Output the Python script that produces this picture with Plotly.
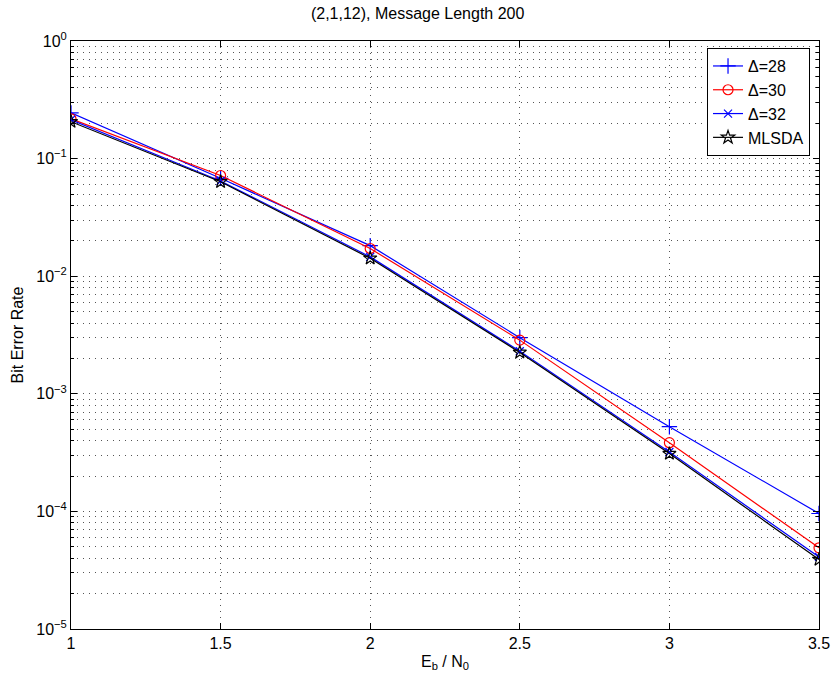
import plotly.graph_objects as go

ebn0 = [1.0, 1.5, 2.0, 2.5, 3.0, 3.5]
ber_d28 = [0.245, 0.068, 0.0182, 3.0e-3, 5.25e-4, 9.6e-5]
ber_d30 = [0.218, 0.0718, 0.0172, 2.86e-3, 3.84e-4, 4.9e-5]
ber_d32 = [0.214, 0.0645, 0.0146, 2.3e-3, 3.2e-4, 4.1e-5]
ber_mlsda = [0.206, 0.0635, 0.0142, 2.25e-3, 3.1e-4, 3.9e-5]

x_ticks = [1, 1.5, 2, 2.5, 3, 3.5]
x_ticktext = ["1", "1.5", "2", "2.5", "3", "3.5"]
y_major = [1e-5, 1e-4, 1e-3, 1e-2, 1e-1, 1e0]
y_major_text = ["10<sup>−5</sup>", "10<sup>−4</sup>", "10<sup>−3</sup>",
                "10<sup>−2</sup>", "10<sup>−1</sup>", "10<sup>0</sup>"]
y_minor = [m * d for d in [1e-5, 1e-4, 1e-3, 1e-2, 1e-1] for m in range(2, 10)]

font = "Liberation Sans, Arial, Helvetica, sans-serif"
fs = 16

fig = go.Figure()
series = [
    ("Δ=28", ber_d28, "#0000FF", "cross-thin-open", 11),
    ("Δ=30", ber_d30, "#FF0000", "circle-open", 10),
    ("Δ=32", ber_d32, "#0000FF", "x-thin-open", 8),
    ("MLSDA", ber_mlsda, "#000000", "star-open", 10),
]
for name, y, color, sym, size in series:
    fig.add_trace(go.Scatter(
        x=ebn0, y=y, name=name, mode="lines+markers",
        line=dict(color=color, width=1.2),
        marker=dict(symbol=sym, size=size, color=color,
                    line=dict(color=color, width=1.2)),
    ))

grid_dash = "1px,5px"
fig.update_layout(
    width=832, height=682, autosize=False,
    paper_bgcolor="white", plot_bgcolor="white",
    margin=dict(l=71, r=13, t=41, b=53, autoexpand=False),
    font=dict(family=font, size=fs, color="black"),
    title=dict(text="(2,1,12), Message Length 200", x=0.502, xanchor="center",
               y=0.981, yanchor="middle", font=dict(size=fs)),
    showlegend=True,
    legend=dict(x=0.988, xanchor="right", y=0.988, yanchor="top",
                bgcolor="white", bordercolor="black", borderwidth=1,
                font=dict(size=fs), tracegroupgap=0, itemwidth=30),
)
fig.update_xaxes(
    range=[1, 3.5], tickvals=x_ticks, ticktext=x_ticktext, automargin=False,
    showline=True, linecolor="black", linewidth=1, mirror="allticks",
    ticks="inside", ticklen=6, tickcolor="black",
    showgrid=True, gridcolor="#555", gridwidth=1, griddash=grid_dash,
    zeroline=False, tickfont=dict(size=fs),
    title=dict(text="E<sub>b</sub> / N<sub>0</sub>", standoff=4, font=dict(size=fs)),
)
fig.update_yaxes(
    type="log", range=[-5, 0], tickvals=y_major, ticktext=y_major_text,
    automargin=False,
    showline=True, linecolor="black", linewidth=1, mirror="allticks",
    ticks="inside", ticklen=6, tickcolor="black",
    showgrid=True, gridcolor="#555", gridwidth=1, griddash=grid_dash,
    zeroline=False, tickfont=dict(size=fs),
    minor=dict(tickvals=y_minor, ticks="inside", ticklen=3, tickcolor="black",
               showgrid=True, gridcolor="#555", gridwidth=1, griddash=grid_dash),
    title=dict(text="Bit Error Rate", standoff=8, font=dict(size=fs)),
)

fig.write_html(
    "out.html",
    config={"responsive": False, "displayModeBar": False},
    post_script="document.body.style.margin='0';",
)
